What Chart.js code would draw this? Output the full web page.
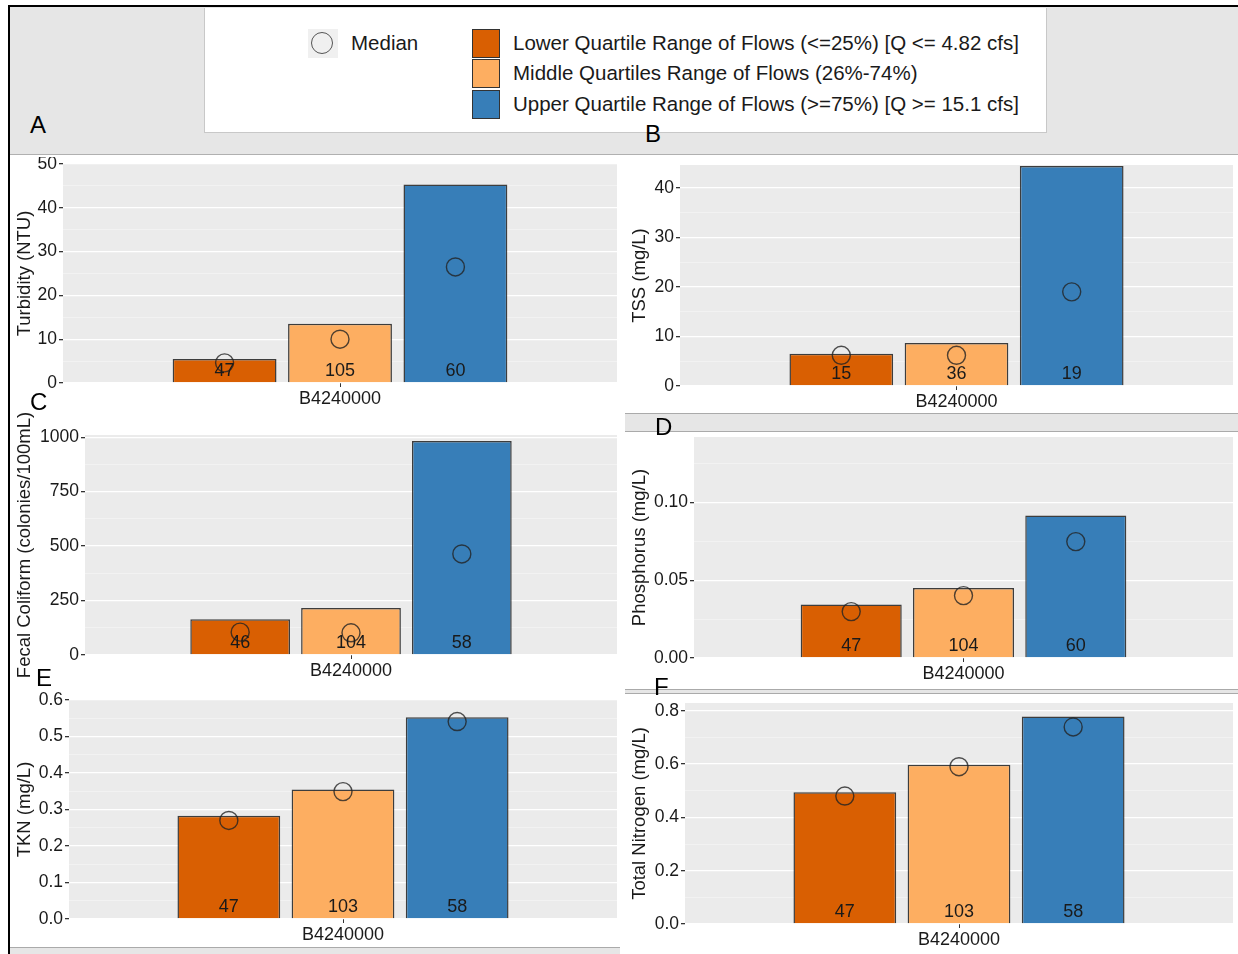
<!DOCTYPE html>
<html>
<head>
<meta charset="utf-8">
<script src="https://cdn.jsdelivr.net/npm/chart.js@4.4.1/dist/chart.umd.min.js"></script>
<style>
body { margin:0; width:1238px; height:954px; position:relative; background:#fff; overflow:hidden; font-family:"Liberation Sans", Arial, sans-serif; color:#222; }
.abs { position:absolute; }
canvas { position:absolute; }
.letter { position:absolute; font-size:24px; line-height:1; color:#000; z-index:5; }
.key { position:absolute; width:26px; height:27px; border:1.5px solid #333; }
.keytxt { position:absolute; font-size:20.5px; line-height:22px; white-space:nowrap; color:#1a1a1a; }
</style>
</head>
<body>

<!-- frame and grey strips -->
<div class="abs" style="left:10px;top:7px;width:1228px;height:147px;background:#e6e6e6;border-bottom:1px solid #b0b0b0"></div>
<div class="abs" style="left:8px;top:5px;width:1230px;height:2px;background:#000"></div>
<div class="abs" style="left:8px;top:5px;width:2px;height:949px;background:#000"></div>
<div class="abs" style="left:625px;top:413px;width:613px;height:17px;background:#e6e6e6;border-top:1px solid #aaa;border-bottom:1px solid #aaa"></div>
<div class="abs" style="left:625px;top:689px;width:613px;height:3px;background:#e6e6e6;border-top:1px solid #aaa;border-bottom:1px solid #aaa"></div>
<div class="abs" style="left:10px;top:947px;width:610px;height:7px;background:#e6e6e6;border-top:1px solid #aaa"></div>

<!-- legend -->
<div class="abs" style="left:204px;top:8px;width:841px;height:124px;background:#fff;border-right:1px solid #c8c8c8;border-bottom:1px solid #c8c8c8;border-left:1px solid #c8c8c8"></div>
<div class="abs" style="left:308px;top:29px;width:30px;height:29px;background:#f0f0f0"></div>
<div class="abs" style="left:311px;top:32px;width:20px;height:20px;border:1.5px solid #555;border-radius:50%"></div>
<div class="keytxt" style="left:351px;top:32px">Median</div>
<div id="keys"></div>

<div class="letter" style="left:30px;top:113px">A</div>
<div class="letter" style="left:645px;top:122px">B</div>
<div class="letter" style="left:30px;top:390px">C</div>
<div class="letter" style="left:655px;top:415px">D</div>
<div class="letter" style="left:36px;top:666px">E</div>
<div class="letter" style="left:654px;top:675px">F</div>

<canvas id="cA"></canvas>
<canvas id="cB"></canvas>
<canvas id="cC"></canvas>
<canvas id="cD"></canvas>
<canvas id="cE"></canvas>
<canvas id="cF"></canvas>

<script>
const station = ['B4240000'];
const flowGroups = [
    'Lower Quartile Range of Flows (<=25%) [Q <= 4.82 cfs]',
    'Middle Quartiles Range of Flows (26%-74%)',
    'Upper Quartile Range of Flows (>=75%) [Q >= 15.1 cfs]'
];
const groupColors = ['#d95f02', '#fdae61', '#377eb8'];
// place of each flow group in the dodged group, station sits at 0
const groupPos = [-1, 0, 1];

const turbidityMean = [5.5, 13.5, 45.3];
const turbidityMedian = [4.6, 10.0, 26.5];
const turbidityN = [47, 105, 60];
const turbidityTicks = [0, 10, 20, 30, 40, 50];

const tssMean = [6.5, 8.7, 44.4];
const tssMedian = [6.2, 6.2, 19.0];
const tssN = [15, 36, 19];
const tssTicks = [0, 10, 20, 30, 40];

const fecalMean = [164, 216, 982];
const fecalMedian = [105, 102, 464];
const fecalN = [46, 104, 58];
const fecalTicks = [0, 250, 500, 750, 1000];

const phosMean = [0.0343, 0.0450, 0.0915];
const phosMedian = [0.0298, 0.0401, 0.0748];
const phosN = [47, 104, 60];
const phosTicks = [0, 0.05, 0.10];

const tknMean = [0.283, 0.355, 0.553];
const tknMedian = [0.270, 0.349, 0.541];
const tknN = [47, 103, 58];
const tknTicks = [0, 0.1, 0.2, 0.3, 0.4, 0.5, 0.6];

const tnMean = [0.494, 0.597, 0.778];
const tnMedian = [0.480, 0.590, 0.739];
const tnN = [47, 103, 58];
const tnTicks = [0, 0.2, 0.4, 0.6, 0.8];

// legend keys
const keys = document.getElementById('keys');
const keyTops = [29, 59, 90];
flowGroups.forEach((g, i) => {
    const sq = document.createElement('div');
    sq.className = 'key';
    sq.style.left = '472px';
    sq.style.top = keyTops[i] + 'px';
    sq.style.background = groupColors[i];
    keys.appendChild(sq);
    const t = document.createElement('div');
    t.className = 'keytxt';
    t.style.left = '513px';
    t.style.top = (keyTops[i] + 3) + 'px';
    t.textContent = g;
    keys.appendChild(t);
});

Chart.defaults.font.family = '"Liberation Sans", Arial, sans-serif';
Chart.defaults.color = '#1a1a1a';

const panelBits = {
    id: 'panelBits',
    beforeDraw(chart) {
        const a = chart.chartArea;
        const ctx = chart.ctx;
        ctx.save();
        ctx.fillStyle = '#ebebeb';
        ctx.fillRect(a.left, a.top, a.right - a.left, a.bottom - a.top);
        ctx.restore();
    },
    afterDatasetsDraw(chart, args, opts) {
        const ctx = chart.ctx;
        const y0 = chart.scales.y.getPixelForValue(0);
        const bars = chart.getDatasetMeta(1).data;
        ctx.save();
        ctx.font = '18px "Liberation Sans", Arial, sans-serif';
        ctx.fillStyle = '#1a1a1a';
        ctx.textAlign = 'center';
        ctx.textBaseline = 'middle';
        bars.forEach((bar, i) => ctx.fillText(String(opts.counts[i]), bar.x, y0 - 12));
        ctx.restore();
    }
};

const inList = (v, list) => list.some(t => Math.abs(t - v) < 1e-9);

function makePanel(id, box, plot, title, titlePad, mean, median, counts, majors, max, dec) {
    const cv = document.getElementById(id);
    cv.width = box[2];
    cv.height = box[3];
    cv.style.left = box[0] + 'px';
    cv.style.top = box[1] + 'px';
    const half = 1.5 / 0.625;
    const yWidth = plot[0] - box[0];
    const xHeight = box[1] + box[3] - plot[3];
    const step = majors[1] - majors[0];
    const minors = majors.map(m => m + step / 2).filter(m => m <= max);
    const allTicks = majors.concat(minors).sort((a, b) => a - b);

    new Chart(cv, {
        type: 'bar',
        data: {
            datasets: [{
                type: 'scatter',
                order: 0,
                data: median.map((v, i) => ({x: groupPos[i], y: v})),
                pointStyle: 'circle',
                pointRadius: 9,
                pointBorderWidth: 1.4,
                pointBackgroundColor: 'rgba(0,0,0,0)',
                pointBorderColor: 'rgba(35,35,35,0.8)',
                showLine: false,
                clip: false
            }, {
                type: 'bar',
                order: 1,
                data: mean.map((v, i) => ({x: groupPos[i], y: v})),
                backgroundColor: groupColors,
                borderColor: 'rgba(30,30,30,0.85)',
                borderWidth: 1.5,
                categoryPercentage: 1,
                barPercentage: 0.9
            }]
        },
        options: {
            responsive: false,
            animation: false,
            devicePixelRatio: 1,
            layout: {
                autoPadding: false,
                padding: { top: plot[1] - box[1], right: box[0] + box[2] - plot[2], left: 0, bottom: 0 }
            },
            plugins: {
                legend: { display: false },
                tooltip: { enabled: false },
                panelBits: { counts: counts }
            },
            scales: {
                x: {
                    type: 'linear',
                    min: -half,
                    max: half,
                    offset: false,
                    border: { display: false },
                    grid: { offset: false, drawOnChartArea: false, tickLength: 4, tickColor: '#333' },
                    ticks: { font: { size: 18 }, color: '#1a1a1a', padding: 1, callback: () => station[0] },
                    afterBuildTicks(s) { s.ticks = [{value: 0}]; },
                    afterFit(s) {
                        s.height = xHeight;
                        s.paddingLeft = 0;
                        s.paddingRight = 0;
                    }
                },
                y: {
                    min: 0,
                    max: max,
                    border: { display: false },
                    grid: {
                        color: c => inList(c.tick.value, majors) ? '#ffffff' : 'rgba(255,255,255,0.55)',
                        lineWidth: c => inList(c.tick.value, majors) ? 1.3 : 0.7,
                        tickLength: 4,
                        tickColor: c => inList(c.tick.value, majors) ? '#333' : 'rgba(0,0,0,0)'
                    },
                    ticks: {
                        autoSkip: false,
                        padding: 2,
                        font: { size: 17.5 },
                        color: '#1a1a1a',
                        callback: v => inList(v, majors) ? v.toFixed(dec) : ''
                    },
                    afterBuildTicks(s) { s.ticks = allTicks.map(v => ({value: v})); },
                    title: {
                        display: true,
                        text: title,
                        font: { size: 18.5 },
                        color: '#1a1a1a',
                        padding: { top: titlePad, bottom: 0 }
                    },
                    afterFit(s) {
                        s.width = yWidth;
                        s.paddingTop = 0;
                        s.paddingBottom = 0;
                    }
                }
            }
        },
        plugins: [panelBits]
    });
}

makePanel('cA', [10, 157, 610, 255], [63, 164, 617, 383], 'Turbidity (NTU)', 4, turbidityMean, turbidityMedian, turbidityN, turbidityTicks, 50, 0);
makePanel('cB', [622, 157, 616, 255], [680, 165, 1233, 386], 'TSS (mg/L)', 7, tssMean, tssMedian, tssN, tssTicks, 44.6, 0);
makePanel('cC', [10, 412, 610, 276], [85, 435, 617, 655], 'Fecal Coliform (colonies/100mL)', 4, fecalMean, fecalMedian, fecalN, fecalTicks, 1010, 0);
makePanel('cD', [622, 432, 616, 257], [694, 437, 1233, 658], 'Phosphorus (mg/L)', 7, phosMean, phosMedian, phosN, phosTicks, 0.142, 2);
makePanel('cE', [10, 688, 610, 259], [69, 700, 617, 919], 'TKN (mg/L)', 4, tknMean, tknMedian, tknN, tknTicks, 0.6, 1);
makePanel('cF', [622, 694, 616, 260], [685, 703, 1233, 924], 'Total Nitrogen (mg/L)', 7, tnMean, tnMedian, tnN, tnTicks, 0.829, 1);
</script>
</body>
</html>
